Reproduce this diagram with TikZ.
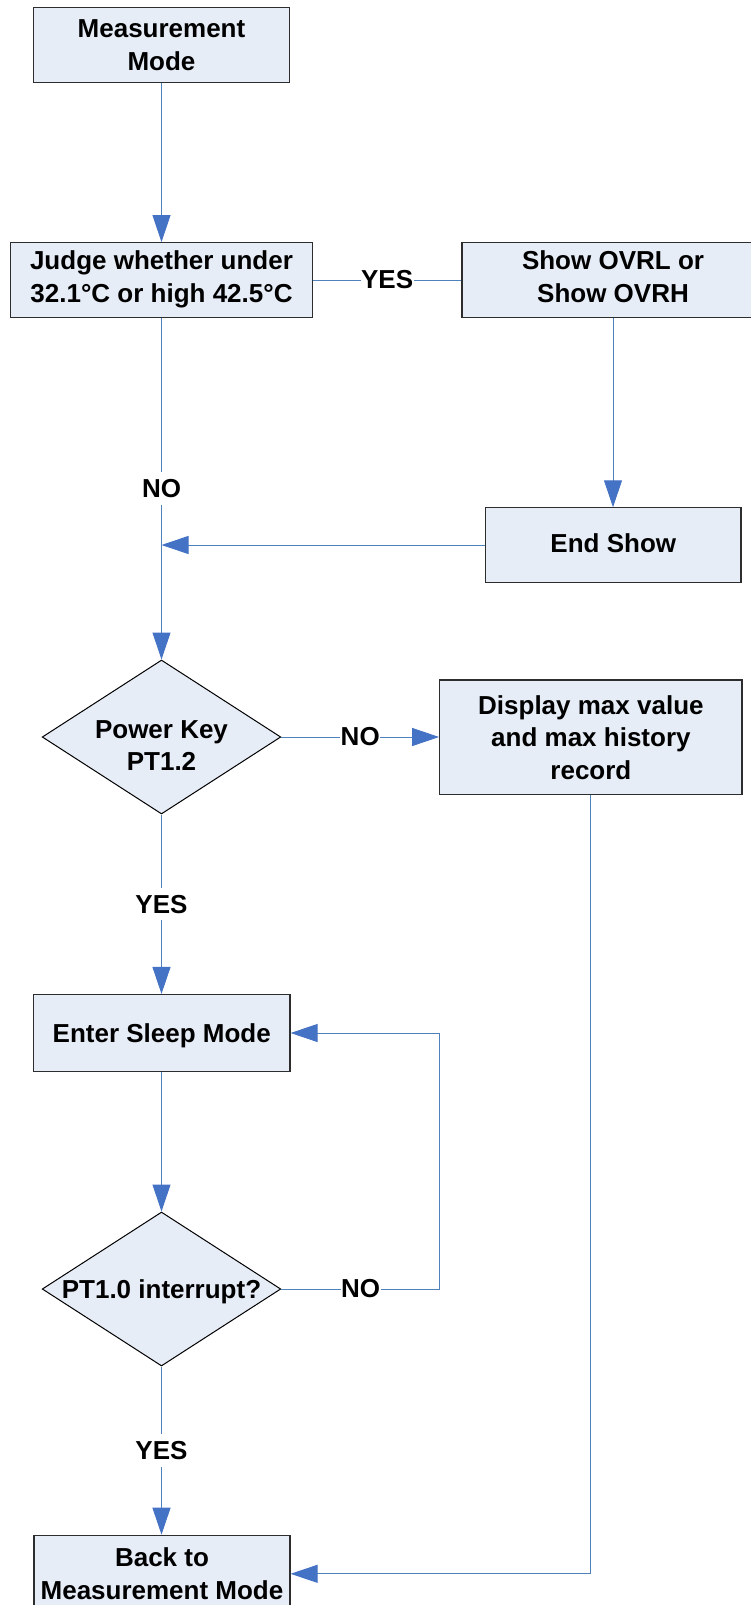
\documentclass[tikz,border=0pt]{standalone}
\usepackage{fontspec}
\setmainfont{Liberation Sans}
\usetikzlibrary{shapes.geometric,arrows.meta}
\definecolor{boxfill}{RGB}{231,237,247}
\definecolor{lineblue}{RGB}{79,129,189}
\definecolor{tipblue}{RGB}{68,114,196}
\definecolor{boxline}{RGB}{45,45,45}
\begin{document}
\begin{tikzpicture}[x=1pt,y=-1pt,
  every node/.style={font=\bfseries\fontsize{26}{32.5}\selectfont, inner sep=0pt},
  procbox/.style={draw=boxline, line width=1.2pt, fill=boxfill, align=center, text depth=0pt},
  dia/.style={diamond, draw=black, line width=1pt, fill=boxfill, minimum width=238.6pt, minimum height=154pt},
  txt/.style={align=center, text depth=0pt},
  conn/.style={draw=lineblue, line width=1pt},
  arr/.style={conn, -{Triangle[length=27pt,width=18pt,fill=tipblue,color=tipblue]}},
  lbl/.style={fill=white, inner xsep=0.5pt, inner ysep=7pt}
]
\useasboundingbox (0,0) rectangle (751,1605);

\node[procbox, minimum width=256pt, minimum height=75pt] (mm) at (161.5,45) {Measurement\\Mode};
\node[procbox, text depth=7pt, minimum width=301.5pt, minimum height=74.6pt] (judge) at (161.5,280) {Judge whether under\\32.1°C or high 42.5°C};
\node[procbox, text depth=7pt, minimum width=302pt, minimum height=74.6pt] (show) at (613,280) {Show OVRL or\\Show OVRH};
\node[procbox, text depth=4pt, minimum width=255.4pt, minimum height=74.3pt] (endshow) at (613.3,545) {End Show};
\node[dia] (pk) at (161.5,737) {};
\node[txt] (pkt) at (161.5,745.5) {Power Key\\PT1.2};
\node[procbox, minimum width=302.3pt, minimum height=114.3pt] (disp) at (590.9,737.2) {Display max value\\and max history\\record};
\node[procbox, minimum width=256.5pt, minimum height=77pt] (sleep) at (161.75,1033) {Enter Sleep Mode};
\node[dia] (pt) at (161.5,1289) {};
\node[txt] (ptt) at (pt.center) {PT1.0 interrupt?};
\node[procbox, minimum width=256pt, minimum height=77pt] (back) at (162,1573.8) {Back to\\Measurement Mode};

\coordinate (loop) at (439.7,1289);

\draw[arr] (mm.south) -- (mm.south |- judge.north);
\draw[conn] (judge.east) -- node[lbl] {YES} (show.west);
\draw[arr] (show.south) -- (show.south |- endshow.north);
\draw[arr] (judge.south) -- node[lbl] {NO} (pk.north);
\draw[arr] (endshow.west) -- (endshow.west -| pk.north);
\draw[arr] (pk.east) -- node[lbl] {NO} (pk.east -| disp.west);
\draw[arr] (pk.south) -- node[lbl] {YES} (pk.south |- sleep.north);
\draw[arr] (sleep.south -| pt.north) -- (pt.north);
\draw[arr] (pt.east) -- node[lbl] {NO} (loop) |- (sleep.east);
\draw[arr] (pt.south) -- node[lbl] {YES} (pt.south |- back.north);
\draw[arr] (disp.south) |- (back.east);
\end{tikzpicture}
\end{document}
